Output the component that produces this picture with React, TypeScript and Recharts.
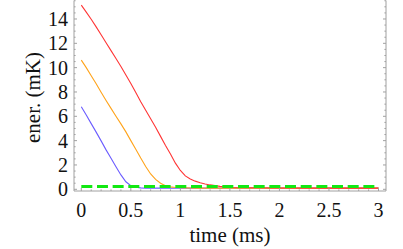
import React from 'react';
import { LineChart, Line, XAxis, YAxis, Label } from 'recharts';

// time (ms)
const times = [
  0, 0.05, 0.1, 0.15, 0.2, 0.25, 0.3, 0.35, 0.4, 0.45, 0.5, 0.55, 0.6, 0.65, 0.7, 0.75,
  0.8, 0.85, 0.9, 0.95, 1.0, 1.05, 1.1, 1.15, 1.2, 1.25, 1.3, 1.35, 1.4, 1.45, 1.5, 2, 2.5, 3,
];
// energy (mK)
const redEnergy = [
  15.14, 14.57, 13.98, 13.35, 12.7, 12.05, 11.4, 10.75, 10.1, 9.4, 8.7, 7.95, 7.2, 6.5, 5.8, 5.1,
  4.35, 3.6, 2.9, 2.15, 1.55, 1.1, 0.85, 0.67, 0.54, 0.44, 0.36, 0.3, 0.24, 0.19, 0.15, 0.11, 0.1, 0.1,
];
const orangeEnergy = [
  10.62, 10.0, 9.33, 8.67, 7.98, 7.3, 6.65, 6.0, 5.38, 4.72, 4.0, 3.3, 2.57, 1.88, 1.26, 0.82,
  0.5, 0.3, 0.2, 0.15, 0.13, 0.12, 0.11, 0.1, 0.1, 0.1, 0.1, 0.1, 0.1, 0.1, 0.1, 0.1, 0.1, 0.1,
];
const blueEnergy = [
  6.79, 6.1, 5.4, 4.7, 3.98, 3.24, 2.55, 1.85, 1.18, 0.62, 0.3, 0.17, 0.12, 0.1, 0.1, 0.1,
  0.1, 0.1, 0.1, 0.1, 0.1, 0.1, 0.1, 0.1, 0.1, 0.1, 0.1, 0.1, 0.1, 0.1, 0.1, 0.1, 0.1, 0.1,
];
const limitTimes = [0, 3];
const limitEnergy = [0.22, 0.22];

const xMajorTicks = [0, 0.5, 1, 1.5, 2, 2.5, 3];
const xTickLabels = ['0', '0.5', '1', '1.5', '2', '2.5', '3'];
const xMinorTicks = [
  0.1, 0.2, 0.3, 0.4, 0.6, 0.7, 0.8, 0.9, 1.1, 1.2, 1.3, 1.4, 1.6, 1.7, 1.8, 1.9,
  2.1, 2.2, 2.3, 2.4, 2.6, 2.7, 2.8, 2.9,
];
const yMajorTicks = [0, 2, 4, 6, 8, 10, 12, 14];
const yTickLabels = ['0', '2', '4', '6', '8', '10', '12', '14'];
const yMinorTicks = [
  0.5, 1, 1.5, 2.5, 3, 3.5, 4.5, 5, 5.5, 6.5, 7, 7.5, 8.5, 9, 9.5, 10.5, 11, 11.5,
  12.5, 13, 13.5, 14.5, 15, 15.5,
];

const X_DOMAIN: [number, number] = [-0.0737, 3.0757];
const Y_DOMAIN: [number, number] = [-0.14, 15.52];
const FRAME = '#a0a0a0';
const FONT = '"Liberation Serif", "Times New Roman", serif';
const MAJOR = 3;
const MINOR = 1.6;

const rows = times.map((t, i) => ({
  t,
  red: redEnergy[i],
  orange: orangeEnergy[i],
  blue: blueEnergy[i],
}));
const limitRows = limitTimes.map((t, i) => ({ t, limit: limitEnergy[i] }));

const xAll = [...xMajorTicks, ...xMinorTicks].sort((a, b) => a - b);
const yAll = [...yMajorTicks, ...yMinorTicks].sort((a, b) => a - b);

const idx = (arr: number[], v: number) => arr.findIndex((m) => Math.abs(m - v) < 1e-6);

const BottomTick = (p: any) => {
  const i = idx(xMajorTicks, p.payload.value);
  const len = i >= 0 ? MAJOR : MINOR;
  return (
    <g>
      <line x1={p.x} x2={p.x} y1={p.y} y2={p.y - len} stroke={FRAME} strokeWidth={1} />
      {i >= 0 && (
        <text x={p.x} y={p.y + 25.5} textAnchor="middle" fontSize={20} fontFamily={FONT} fill="#111">
          {xTickLabels[i]}
        </text>
      )}
    </g>
  );
};
const TopTick = (p: any) => {
  const i = idx(xMajorTicks, p.payload.value);
  const len = i >= 0 ? MAJOR : MINOR;
  return <line x1={p.x} x2={p.x} y1={p.y} y2={p.y + len} stroke={FRAME} strokeWidth={1} />;
};
const LeftTick = (p: any) => {
  const i = idx(yMajorTicks, p.payload.value);
  const len = i >= 0 ? MAJOR : MINOR;
  return (
    <g>
      <line x1={p.x} x2={p.x + len} y1={p.y} y2={p.y} stroke={FRAME} strokeWidth={1} />
      {i >= 0 && (
        <text x={p.x - 6} y={p.y + 7} textAnchor="end" fontSize={20} fontFamily={FONT} fill="#111">
          {yTickLabels[i]}
        </text>
      )}
    </g>
  );
};
const RightTick = (p: any) => {
  const i = idx(yMajorTicks, p.payload.value);
  const len = i >= 0 ? MAJOR : MINOR;
  return <line x1={p.x} x2={p.x - len} y1={p.y} y2={p.y} stroke={FRAME} strokeWidth={1} />;
};

export default function App() {
  return (
    <div style={{ position: 'fixed', left: 0, top: 0, width: 403, height: 249, background: '#fff' }}>
      <LineChart width={403} height={249} margin={{ top: 0.5, right: 0, bottom: 0, left: 0 }}>
        <XAxis
          xAxisId="bottom"
          dataKey="t"
          type="number"
          domain={X_DOMAIN}
          allowDataOverflow
          ticks={xAll}
          interval={0}
          height={58}
          tickSize={0}
          tickMargin={0}
          tickLine={false}
          axisLine={{ stroke: FRAME }}
          tick={(p: any) => <BottomTick {...p} />}
        >
          <Label
            content={(lp: any) => {
              const vb = lp.viewBox;
              return (
                <text x={vb.x + vb.width / 2} y={241.5} textAnchor="middle" fontSize={21} fontFamily={FONT} fill="#111">
                  time (ms)
                </text>
              );
            }}
          />
        </XAxis>
        <XAxis
          xAxisId="top"
          orientation="top"
          dataKey="t"
          type="number"
          domain={X_DOMAIN}
          allowDataOverflow
          ticks={xAll}
          interval={0}
          height={0}
          tickSize={0}
          tickMargin={0}
          tickLine={false}
          axisLine={{ stroke: FRAME }}
          tick={(p: any) => <TopTick {...p} />}
        />
        <YAxis
          yAxisId="left"
          type="number"
          domain={Y_DOMAIN}
          allowDataOverflow
          ticks={yAll}
          interval={0}
          width={74}
          tickSize={0}
          tickMargin={0}
          tickLine={false}
          axisLine={{ stroke: FRAME }}
          tick={(p: any) => <LeftTick {...p} />}
        >
          <Label
            content={() => (
              <text
                x={40}
                y={97.5}
                transform="rotate(-90 40 97.5)"
                textAnchor="middle"
                fontSize={21}
                fontFamily={FONT}
                fill="#111"
              >
                ener. (mK)
              </text>
            )}
          />
        </YAxis>
        <YAxis
          yAxisId="right"
          orientation="right"
          type="number"
          domain={Y_DOMAIN}
          allowDataOverflow
          ticks={yAll}
          interval={0}
          width={17}
          tickSize={0}
          tickMargin={0}
          tickLine={false}
          axisLine={{ stroke: FRAME }}
          tick={(p: any) => <RightTick {...p} />}
        />
        <Line
          data={rows}
          xAxisId="bottom"
          yAxisId="left"
          dataKey="blue"
          stroke="#6b5cff"
          strokeWidth={1.1}
          dot={false}
          activeDot={false}
          isAnimationActive={false}
        />
        <Line
          data={rows}
          xAxisId="bottom"
          yAxisId="left"
          dataKey="orange"
          stroke="#ffa31a"
          strokeWidth={1.1}
          dot={false}
          activeDot={false}
          isAnimationActive={false}
        />
        <Line
          data={rows}
          xAxisId="bottom"
          yAxisId="left"
          dataKey="red"
          stroke="#ff3535"
          strokeWidth={1.1}
          dot={false}
          activeDot={false}
          isAnimationActive={false}
        />
        <Line
          data={limitRows}
          xAxisId="top"
          yAxisId="right"
          dataKey="limit"
          stroke="#12e812"
          strokeWidth={3}
          strokeDasharray="11 4.67"
          dot={false}
          activeDot={false}
          isAnimationActive={false}
        />
      </LineChart>
    </div>
  );
}
